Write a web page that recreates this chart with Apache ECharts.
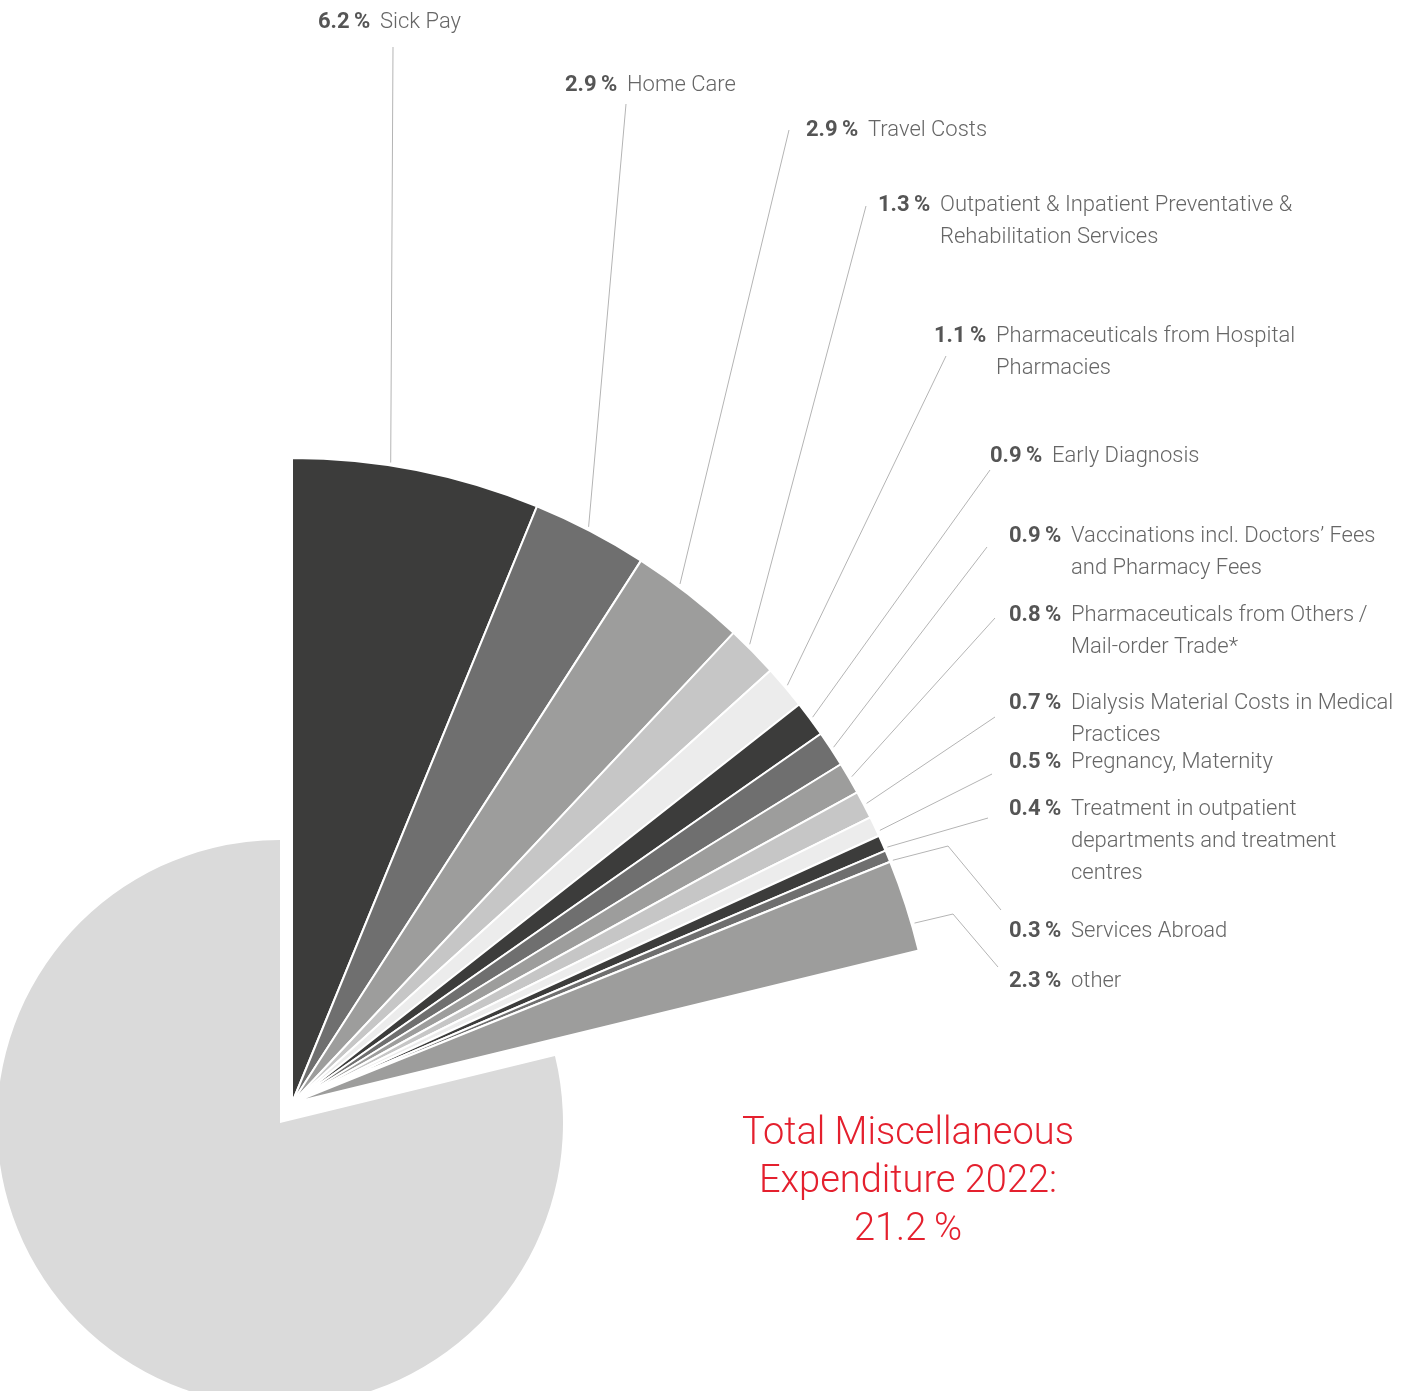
<!DOCTYPE html>
<html lang="en">
<head>
<meta charset="UTF-8">
<title>Miscellaneous Expenditure 2022</title>
<style>
  * { padding: 0; margin: 0; }
  body { background: #fff; }
</style>
</head>
<body>
<div id="main" style="width: 1409px;height:1391px;"></div>
<script src="https://cdn.jsdelivr.net/npm/echarts@6/dist/echarts.min.js"></script>
<script>
  // categories, line breaks as printed
  var categories = [
    'Sick Pay',
    'Home Care',
    'Travel Costs',
    'Outpatient & Inpatient Preventative &\nRehabilitation Services',
    'Pharmaceuticals from Hospital\nPharmacies',
    'Early Diagnosis',
    'Vaccinations incl. Doctors\u2019 Fees\nand Pharmacy Fees',
    'Pharmaceuticals from Others\u2009/\nMail-order Trade*',
    'Dialysis Material Costs in Medical\nPractices',
    'Pregnancy, Maternity',
    'Treatment in outpatient\ndepartments and treatment\ncentres',
    'Services Abroad',
    'other'
  ];
  // share of total expenditure in %
  var shares = [6.2, 2.9, 2.9, 1.3, 1.1, 0.9, 0.9, 0.8, 0.7, 0.5, 0.4, 0.3, 2.3];
  var restShare = 78.8;

  var greys = ['#3c3c3b', '#6f6f6f', '#9d9d9c', '#c6c6c6', '#ececec'];
  var fontFam = 'Roboto, "Helvetica Neue", Arial, sans-serif';

  // hand placed labels (left / top of the text block)
  var labelPos = [
    [318, 6], [565, 69], [806, 114], [878, 189], [934, 320], [990, 440],
    [1009, 520], [1009, 599], [1009, 687], [1009, 746], [1009, 793],
    [1009, 915], [1009, 965]
  ];
  // where each leader line goes after leaving the slice
  var leaderEnds = [
    [[393, 47]], [[626, 104]], [[789, 130]], [[866, 206]], [[946, 356]],
    [[990, 470]], [[987, 547]], [[995, 618]], [[995, 717]], [[992, 774]],
    [[988, 818]], [[948, 846], [1001, 910]], [[953, 914], [998, 967]]
  ];
  // small turn (degrees) of the leader start away from the slice middle
  var anchorShift = [-2.4, -0.3, -1.2, -0.6, 0, 0, 0, 0, 0, 0.5, 0.5, 0.5, 1.7];

  var fanCenter = [292, 1103];
  var total = 0;
  shares.forEach(function (v) { total += v; });

  var fanData = shares.map(function (v, i) {
    return { name: categories[i], value: v, itemStyle: { color: greys[i % 5] } };
  });
  fanData.push({
    name: 'rest', value: restShare,
    itemStyle: { color: 'transparent', borderWidth: 0 },
    label: { show: false }, labelLine: { show: false }
  });

  option = {
    animation: false,
    graphic: [{
      type: 'text',
      x: 908,
      y: 1110,
      style: {
        text: 'Total Miscellaneous\nExpenditure 2022:\n' + total.toFixed(1) + '\u2009%',
        align: 'center',
        verticalAlign: 'top',
        fill: '#e4202e',
        fontSize: 38,
        fontWeight: 300,
        fontFamily: fontFam,
        lineHeight: 48
      }
    }],
    series: [
      {
        // big remainder slice, pushed away from the fan
        type: 'pie',
        silent: true,
        center: [280, 1123],
        radius: [0, 283],
        startAngle: 90,
        label: { show: false },
        labelLine: { show: false },
        data: [
          { name: 'misc', value: total, itemStyle: { color: 'transparent' } },
          { name: 'rest', value: restShare, itemStyle: { color: '#dadada' } }
        ]
      },
      {
        type: 'pie',
        silent: true,
        center: fanCenter,
        radius: [0, 645],
        startAngle: 90,
        avoidLabelOverlap: false,
        itemStyle: { borderColor: '#fff', borderWidth: 2 },
        label: {
          show: true,
          position: 'outside',
          formatter: function (p) {
            var lines = p.name.split('\n');
            var s = '{pct|' + p.value.toFixed(1) + '\u2009%}{nm|' + lines[0] + '}';
            for (var i = 1; i < lines.length; i++) {
              s += '\n{ind| }{nm|' + lines[i] + '}';
            }
            return s;
          },
          rich: {
            pct: { fontFamily: fontFam, fontSize: 22, fontWeight: 'bold', color: '#555', width: 62, lineHeight: 32 },
            nm: { fontFamily: fontFam, fontSize: 22, fontWeight: 300, color: '#666', lineHeight: 32 },
            ind: { width: 62, lineHeight: 32 }
          }
        },
        labelLine: {
          show: true,
          length: 20,
          length2: 20,
          lineStyle: { color: '#b4b4b4', width: 1 }
        },
        labelLayout: function (p) {
          var pos = labelPos[p.dataIndex];
          if (!pos) return {};
          var res = { x: pos[0], y: pos[1], align: 'left', verticalAlign: 'top' };
          if (p.labelLinePoints && p.labelLinePoints[0]) {
            var s = p.labelLinePoints[0];
            var dx = s[0] - fanCenter[0], dy = s[1] - fanCenter[1];
            var r = Math.sqrt(dx * dx + dy * dy) + 3;
            var ang = Math.atan2(dx, -dy) + anchorShift[p.dataIndex] * Math.PI / 180;
            var start = [fanCenter[0] + r * Math.sin(ang), fanCenter[1] - r * Math.cos(ang)];
            res.labelLinePoints = [start].concat(leaderEnds[p.dataIndex]);
          }
          return res;
        },
        data: fanData
      }
    ]
  };

  var myChart = echarts.init(document.getElementById('main'));
  myChart.setOption(option);
</script>
</body>
</html>
